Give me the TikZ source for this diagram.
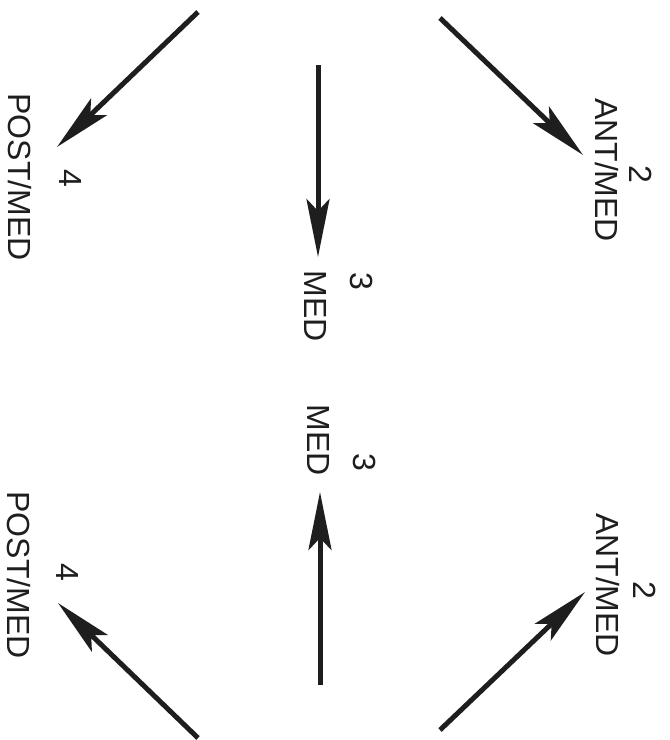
\documentclass[tikz,border=0pt]{standalone}
\usepackage{fontspec}
\setmainfont{Liberation Sans}
\usetikzlibrary{arrows.meta}
\definecolor{ink}{HTML}{1E1E1E}
\tikzset{
  lbl/.style={rotate=-90, inner sep=0pt, text=ink, font=\fontsize{32}{34}\selectfont},
  arr/.style={draw=ink, line width=5pt, -{Stealth[length=58pt, width=23pt, inset=12pt]}}
}
\begin{document}
\begin{tikzpicture}[x=1pt,y=-1pt]
\useasboundingbox (0,0) rectangle (670,740);

% Labels (top half)
\node[lbl] (postA) at (20,177) {POST/MED};
\node[lbl] (fourA) at (71,178) {4};
\node[lbl] (medA) at (316,306) {MED};
\node[lbl] (threeA) at (362,281) {3};
\node[lbl] (antA) at (607,170) {ANT/MED};
\node[lbl] (twoA) at (641,174) {2};

% Labels (bottom half)
\node[lbl] (postB) at (19,575) {POST/MED};
\node[lbl] (fourB) at (68,572) {4};
\node[lbl] (medB) at (319,440) {MED};
\node[lbl] (threeB) at (365,462) {3};
\node[lbl] (antB) at (608,585) {ANT/MED};
\node[lbl] (twoB) at (645,590) {2};

% Arrow ends
\coordinate (tlS) at (198,12);
\coordinate (tlE) at (57,147);
\coordinate (trS) at (440,18);
\coordinate (trE) at (583,155);
\coordinate (mtS) at (318,65);
\coordinate (mtE) at (318,257);
\coordinate (mbS) at (320,685);
\coordinate (mbE) at (320,492);
\coordinate (blS) at (198,738);
\coordinate (blE) at (58,603);
\coordinate (brS) at (440,730);
\coordinate (brE) at (585,592);

% Arrows
\draw[arr] (tlS) -- (tlE);
\draw[arr] (trS) -- (trE);
\draw[arr] (mtS) -- (mtE);
\draw[arr] (mbS) -- (mbE);
\draw[arr] (blS) -- (blE);
\draw[arr] (brS) -- (brE);

\end{tikzpicture}
\end{document}
